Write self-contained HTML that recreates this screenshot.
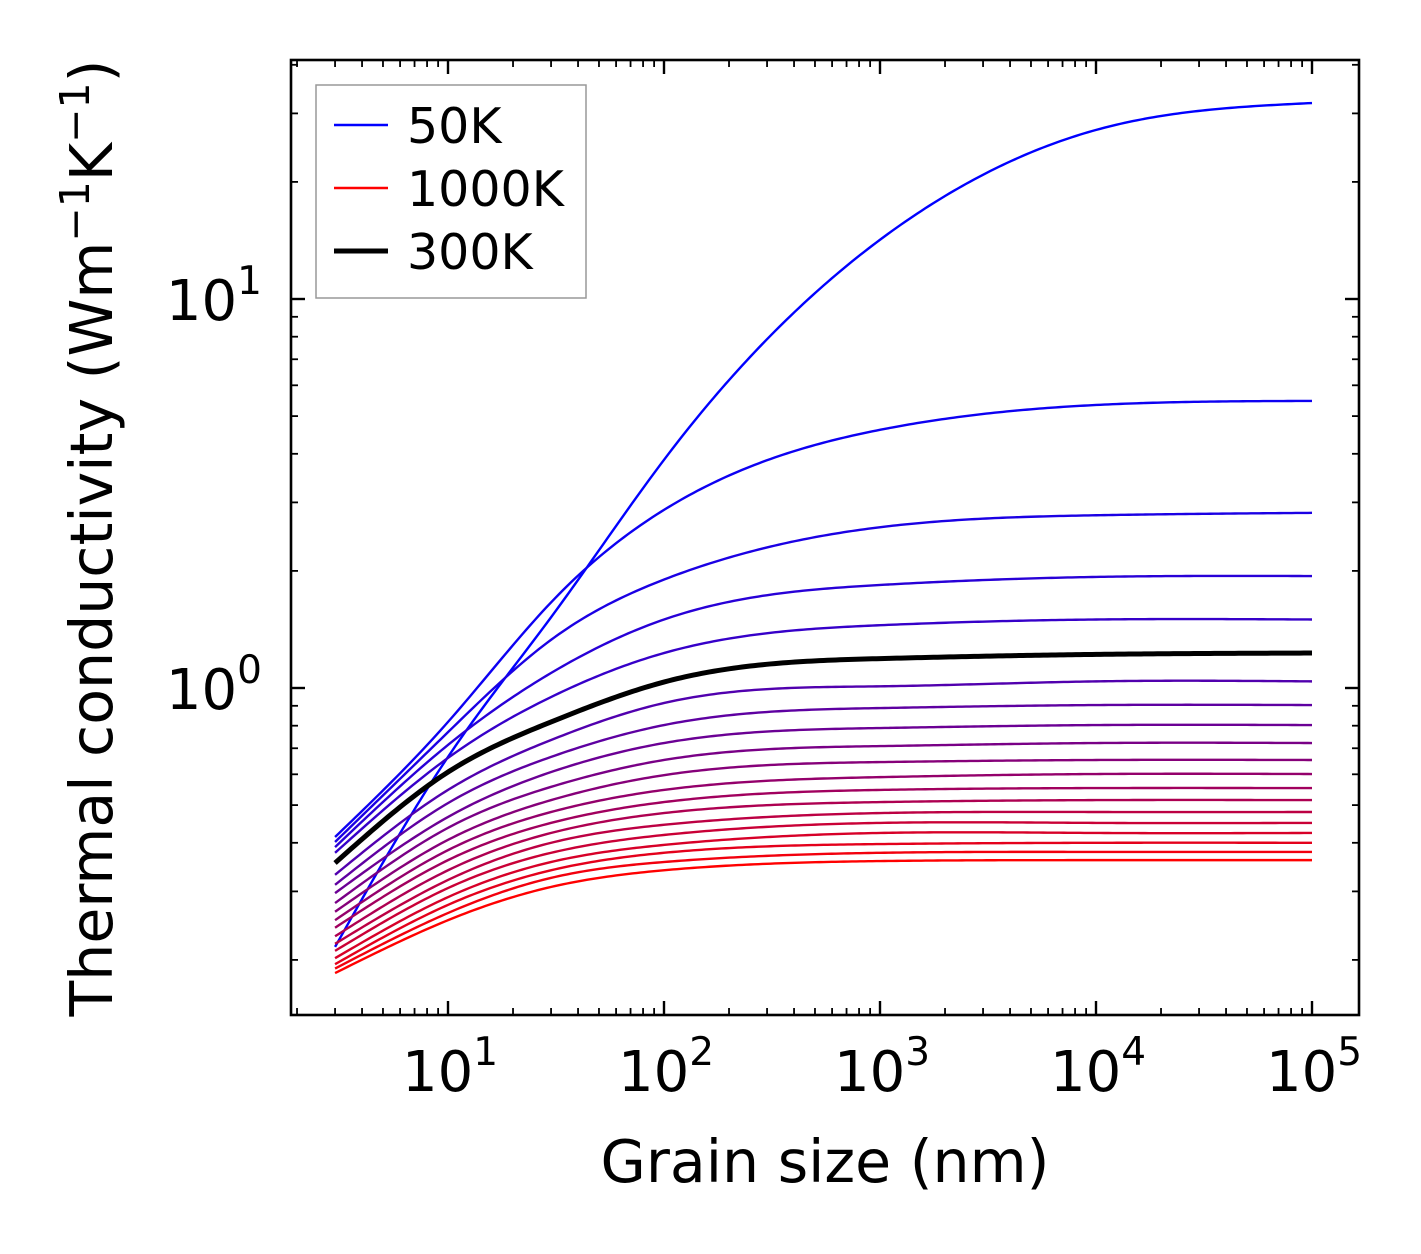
<!DOCTYPE html>
<html><head><meta charset="utf-8"><style>
html,body{margin:0;padding:0;background:#fff}
svg{display:block;font-family:"DejaVu Sans","Liberation Sans",sans-serif}
</style></head><body>
<svg id="chart" width="1421" height="1254" viewBox="0 0 1421 1254" xmlns="http://www.w3.org/2000/svg">
<rect x="0" y="0" width="1421" height="1254" fill="#fff"/>
<g id="curves"></g>
<g id="axes"></g>
<text x="825" y="1182" font-size="58.5" text-anchor="middle">Grain size (nm)</text>
<text transform="translate(112,538) rotate(-90)" font-size="58.5" text-anchor="middle">Thermal conductivity (Wm<tspan dy="-23" font-size="41">−1</tspan><tspan dy="23">K</tspan><tspan dy="-23" font-size="41">−1</tspan><tspan dy="23">)</tspan></text>
<g>
<rect x="316" y="85" width="270" height="213" fill="#fff" fill-opacity="0.8" stroke="#999" stroke-width="1.5"/>
<line x1="334" y1="125" x2="388" y2="125" stroke="#0000ff" stroke-width="2.4"/>
<text x="407" y="143" font-size="49">50K</text>
<line x1="334" y1="188" x2="388" y2="188" stroke="#ff0000" stroke-width="2.4"/>
<text x="407" y="206" font-size="49">1000K</text>
<line x1="334" y1="251" x2="388" y2="251" stroke="#000" stroke-width="5"/>
<text x="407" y="269" font-size="49">300K</text>
</g>
</svg>
<script>
// grain sizes (nm) where each curve was read
const grainSizes = [3, 10, 30, 100, 1000, 10000, 100000];
const temperatures = [50,100,150,200,250,300,350,400,450,500,550,600,650,700,750,800,850,900,950,1000];
// thermal conductivity (W/mK) per temperature, at grainSizes
const k50   = [0.216, 0.665, 1.52, 3.86, 14.2, 27.2, 31.9];
const k100  = [0.414, 0.818, 1.66, 2.87, 4.61, 5.34, 5.47];
const k150  = [0.402, 0.770, 1.33, 1.90, 2.59, 2.78, 2.82];
const k200  = [0.390, 0.714, 1.093, 1.50, 1.84, 1.93, 1.94];
const k250  = [0.377, 0.661, 0.948, 1.23, 1.45, 1.50, 1.50];
const k300  = [0.355, 0.608, 0.818, 1.036, 1.19, 1.22, 1.23];
const k350  = [0.331, 0.547, 0.735, 0.915, 1.01, 1.04, 1.04];
const k400  = [0.312, 0.506, 0.665, 0.803, 0.888, 0.904, 0.904];
const k450  = [0.297, 0.466, 0.608, 0.722, 0.789, 0.803, 0.803];
const k500  = [0.280, 0.437, 0.557, 0.653, 0.709, 0.722, 0.722];
const k550  = [0.266, 0.407, 0.515, 0.597, 0.645, 0.653, 0.653];
const k600  = [0.253, 0.383, 0.480, 0.547, 0.590, 0.601, 0.601];
const k650  = [0.242, 0.361, 0.450, 0.509, 0.547, 0.553, 0.553];
const k700  = [0.230, 0.340, 0.424, 0.477, 0.509, 0.515, 0.515];
const k750  = [0.220, 0.321, 0.400, 0.445, 0.477, 0.480, 0.480];
const k800  = [0.211, 0.306, 0.377, 0.419, 0.450, 0.450, 0.450];
const k850  = [0.202, 0.290, 0.357, 0.395, 0.424, 0.424, 0.424];
const k900  = [0.195, 0.277, 0.340, 0.377, 0.397, 0.400, 0.400];
const k950  = [0.190, 0.264, 0.325, 0.357, 0.377, 0.379, 0.379];
const k1000 = [0.185, 0.253, 0.308, 0.340, 0.359, 0.361, 0.361];
const seriesK = [k50,k100,k150,k200,k250,k300,k350,k400,k450,k500,k550,k600,k650,k700,k750,k800,k850,k900,k950,k1000];
const xTickExps = [1, 2, 3, 4, 5];
const yTickExps = [0, 1];

const NS = 'http://www.w3.org/2000/svg';
const L = 291, R = 1359, T = 60, B = 1015;
const xDec = 216, x10 = 448, yDec = 389, y1 = 688;
const xMin = Math.pow(10, 1 - (x10 - L) / xDec), xMax = Math.pow(10, 1 + (R - x10) / xDec);
const yMin = Math.pow(10, -(B - y1) / yDec), yMax = Math.pow(10, (y1 - T) / yDec);
function xs(v){ return x10 + (Math.log10(v) - 1) * xDec; }
function ys(v){ return y1 - Math.log10(v) * yDec; }

// natural cubic spline in log space
function spline(xa, ya){
  const n = xa.length, h = [], al = [], l = [1], mu = [0], z = [0], c = new Array(n).fill(0), b = [], d = [];
  for (let i=0;i<n-1;i++) h.push(xa[i+1]-xa[i]);
  for (let i=1;i<n-1;i++) al[i] = 3/h[i]*(ya[i+1]-ya[i]) - 3/h[i-1]*(ya[i]-ya[i-1]);
  for (let i=1;i<n-1;i++){
    l[i] = 2*(xa[i+1]-xa[i-1]) - h[i-1]*mu[i-1];
    mu[i] = h[i]/l[i];
    z[i] = (al[i] - h[i-1]*z[i-1])/l[i];
  }
  z[n-1] = 0;
  for (let j=n-2;j>=0;j--){
    c[j] = z[j] - mu[j]*c[j+1];
    b[j] = (ya[j+1]-ya[j])/h[j] - h[j]*(c[j+1]+2*c[j])/3;
    d[j] = (c[j+1]-c[j])/(3*h[j]);
  }
  return function(x){
    let i=0; while(i<n-2 && x>xa[i+1]) i++;
    const t = x - xa[i];
    return ya[i] + b[i]*t + c[i]*t*t + d[i]*t*t*t;
  };
}
function pathFor(vals){
  const lx = grainSizes.map(v=>Math.log10(v)), ly = vals.map(v=>Math.log10(v));
  const f = spline(lx, ly);
  let d = '';
  const N = 240;
  for (let j=0;j<=N;j++){
    const x = lx[0] + (lx[lx.length-1]-lx[0])*j/N;
    const px = xs(Math.pow(10,x)), py = ys(Math.pow(10,f(x)));
    d += (j?'L':'M') + px.toFixed(2) + ',' + py.toFixed(2);
  }
  return d;
}
const cg = document.getElementById('curves');
seriesK.forEach((vals, i) => {
  const t = i/(seriesK.length-1);
  const p = document.createElementNS(NS,'path');
  p.setAttribute('d', pathFor(vals));
  p.setAttribute('fill','none');
  p.setAttribute('stroke', 'rgb(' + Math.round(255*t) + ',0,' + Math.round(255*(1-t)) + ')');
  p.setAttribute('stroke-width','2.4');
  
  
  cg.appendChild(p);
});
const blk = document.createElementNS(NS,'path');
blk.setAttribute('d', pathFor(k300));
blk.setAttribute('fill','none');
blk.setAttribute('stroke','#000');
blk.setAttribute('stroke-width','5');


cg.appendChild(blk);

const ag = document.getElementById('axes');
function line(x1,y1_,x2,y2,w,name){
  const l = document.createElementNS(NS,'line');
  l.setAttribute('x1',x1); l.setAttribute('y1',y1_); l.setAttribute('x2',x2); l.setAttribute('y2',y2);
  l.setAttribute('stroke','#000'); l.setAttribute('stroke-width',w);
  
  
  ag.appendChild(l);
}
for (let e=0;e<=5;e++){
  for (let m=1;m<10;m++){
    const v = m*Math.pow(10,e);
    if (v < xMin || v > xMax) continue;
    const px = xs(v), len = m===1 ? 14 : 7, w = m===1 ? 2.4 : 1.8;
    line(px,B,px,B-len,w,'x-tick');
    line(px,T,px,T+len,w,'x-tick-top');
  }
}
for (let e=-1;e<=1;e++){
  for (let m=1;m<10;m++){
    const v = m*Math.pow(10,e);
    if (v < yMin || v > yMax) continue;
    const py = ys(v), len = m===1 ? 14 : 7, w = m===1 ? 2.4 : 1.8;
    line(L,py,L+len,py,w,'y-tick');
    line(R,py,R-len,py,w,'y-tick-right');
  }
}
const frame = document.createElementNS(NS,'rect');
frame.setAttribute('x',L); frame.setAttribute('y',T); frame.setAttribute('width',R-L); frame.setAttribute('height',B-T);
frame.setAttribute('fill','none'); frame.setAttribute('stroke','#000'); frame.setAttribute('stroke-width','2.6');


ag.appendChild(frame);

function powLabel(x, y, exp, anchor, name){
  const t = document.createElementNS(NS,'text');
  t.setAttribute('x', x); t.setAttribute('y', y);
  t.setAttribute('font-size','56'); t.setAttribute('text-anchor', anchor);
  
  
  t.appendChild(document.createTextNode('10'));
  const s = document.createElementNS(NS,'tspan');
  s.setAttribute('dy','-26'); s.setAttribute('font-size','39');
  s.textContent = String(exp);
  t.appendChild(s);
  ag.appendChild(t);
}
xTickExps.forEach(e => powLabel(xs(Math.pow(10,e)) + 2, 1091, e, 'middle', 'x-tick-label'));
yTickExps.forEach(e => powLabel(262, ys(Math.pow(10,e)) + 21, e, 'end', 'y-tick-label'));
</script>
</body></html>
